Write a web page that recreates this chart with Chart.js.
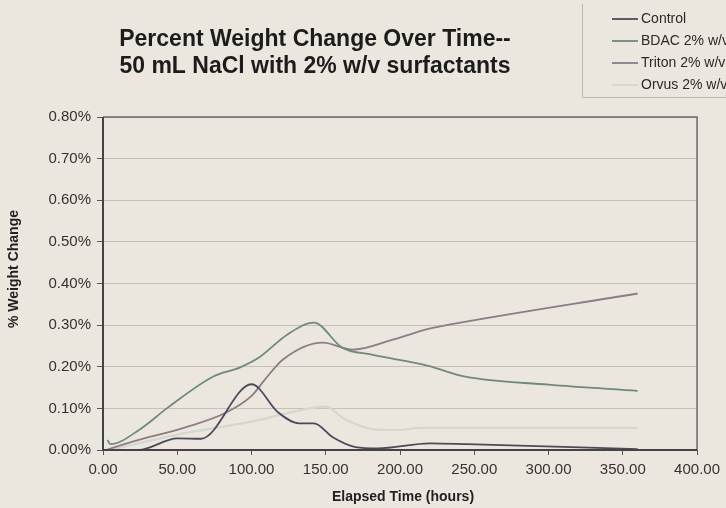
<!DOCTYPE html>
<html>
<head>
<meta charset="utf-8">
<script src="https://cdn.jsdelivr.net/npm/chart.js@4/dist/chart.umd.min.js"></script>
<style>
    body { margin: 0; background: #ece7de; }
    #wrap { width: 726px; height: 508px; position: relative; }
</style>
</head>
<body>
<div id="wrap"><canvas id="grafico"></canvas></div>
<script>
// dados (horas, % de variacao de peso)
let horasControle = [5, 24, 50, 66, 100, 118, 132, 142, 155, 170, 185, 220, 245, 360];
let valoresControle = [0, 0, 0.028, 0.027, 0.158, 0.09, 0.064, 0.064, 0.03, 0.007, 0.004, 0.016, 0.014, 0.002];

let horasBDAC = [3, 5, 25, 43, 74, 92, 105, 124, 142, 161, 181, 219, 244, 300, 360];
let valoresBDAC = [0.024, 0.014, 0.05, 0.1, 0.176, 0.198, 0.222, 0.277, 0.306, 0.246, 0.229, 0.202, 0.176, 0.157, 0.142];

let horasTriton = [2, 20, 56, 83, 100, 109, 121, 148, 168, 195, 219, 233, 360];
let valoresTriton = [0, 0.02, 0.055, 0.09, 0.13, 0.169, 0.217, 0.258, 0.241, 0.265, 0.291, 0.301, 0.376];

let horasOrvus = [5, 54, 100, 139, 150, 163, 184, 199, 213, 360];
let valoresOrvus = [0, 0.04, 0.068, 0.1, 0.104, 0.074, 0.049, 0.048, 0.053, 0.053];

let nomesSeries = ['Control', 'BDAC 2% w/v', 'Triton 2% w/v', 'Orvus 2% w/v'];
let coresSeries = ['#4b4a5c', '#6f8a7b', '#8c7c86', '#d4d7cd'];

let titulo = ['Percent Weight Change Over Time--', '50 mL NaCl with 2% w/v surfactants'];
let tituloX = 'Elapsed Time (hours)';
let tituloY = '% Weight Change';

let fonte = '"Liberation Sans", Arial, sans-serif';

function pontos(horas, valores) {
    return horas.map((h, i) => ({ x: h, y: valores[i] }));
}

function serie(i, horas, valores) {
    return {
        label: nomesSeries[i],
        data: pontos(horas, valores),
        borderColor: coresSeries[i],
        backgroundColor: coresSeries[i],
        borderWidth: i == 3 ? 2.2 : 1.8,
        pointRadius: 0,
        cubicInterpolationMode: 'monotone',
        fill: false
    };
}

const extras = {
    id: 'extras',
    beforeDraw(chart) {
        const c = chart.ctx;
        c.save();
        c.fillStyle = '#ece7de';
        c.fillRect(0, 0, chart.width, chart.height);
        c.restore();
    },
    afterDatasetsDraw(chart) {
        const c = chart.ctx;
        const a = chart.chartArea;
        c.save();
        // moldura da area do grafico
        c.strokeStyle = '#6a6866';
        c.lineWidth = 1.5;
        c.beginPath();
        c.moveTo(a.left, a.top);
        c.lineTo(a.right, a.top);
        c.lineTo(a.right, a.bottom);
        c.stroke();
        c.strokeStyle = '#444';
        c.lineWidth = 2;
        c.beginPath();
        c.moveTo(a.left, a.top);
        c.lineTo(a.left, a.bottom);
        c.lineTo(a.right, a.bottom);
        c.stroke();

        // titulo
        c.fillStyle = '#1c1c1c';
        c.textAlign = 'center';
        c.textBaseline = 'alphabetic';
        c.font = 'bold 23px ' + fonte;
        c.fillText(titulo[0], 315, 46);
        c.fillText(titulo[1], 315, 73);

        // titulos dos eixos
        c.font = 'bold 14px ' + fonte;
        c.fillStyle = '#222';
        c.textBaseline = 'middle';
        c.fillText(tituloX, 403, 497);
        c.translate(14, 269);
        c.rotate(-Math.PI / 2);
        c.fillText(tituloY, 0, 0);
        c.setTransform(1, 0, 0, 1, 0, 0);

        // legenda
        c.strokeStyle = '#bcb8b0';
        c.lineWidth = 1;
        c.beginPath();
        c.moveTo(582.5, 4);
        c.lineTo(582.5, 97.5);
        c.lineTo(726, 97.5);
        c.stroke();
        c.font = '14px ' + fonte;
        c.textAlign = 'left';
        chart.data.datasets.forEach((ds, i) => {
            let y = 19 + i * 22;
            c.strokeStyle = ds.borderColor;
            c.lineWidth = 1.8;
            c.beginPath();
            c.moveTo(612, y);
            c.lineTo(638, y);
            c.stroke();
            c.fillStyle = '#2a2a2a';
            c.fillText(ds.label, 641, y);
        });
        c.restore();
    }
};

new Chart(document.getElementById('grafico'), {
    type: 'line',
    data: {
        datasets: [
            serie(0, horasControle, valoresControle),
            serie(1, horasBDAC, valoresBDAC),
            serie(2, horasTriton, valoresTriton),
            serie(3, horasOrvus, valoresOrvus)
        ]
    },
    options: {
        responsive: true,
        maintainAspectRatio: false,
        animation: false,
        layout: { padding: { top: 117, right: 27, left: 0, bottom: 0 } },
        plugins: {
            legend: { display: false },
            title: { display: false },
            tooltip: { enabled: false }
        },
        scales: {
            x: {
                type: 'linear',
                min: 0,
                max: 400,
                ticks: {
                    stepSize: 50,
                    color: '#333',
                    padding: 6,
                    maxRotation: 0,
                    font: { size: 15, family: fonte },
                    callback: v => Number(v).toFixed(2)
                },
                grid: { drawOnChartArea: false, tickLength: 5, tickColor: '#555' },
                border: { display: false },
                afterFit(scale) { scale.height = 58; }
            },
            y: {
                min: 0,
                max: 0.8,
                ticks: {
                    stepSize: 0.1,
                    color: '#333',
                    padding: 6,
                    font: { size: 15, family: fonte },
                    callback: v => Number(v).toFixed(2) + '%'
                },
                grid: { color: 'rgba(150,146,140,0.45)', tickLength: 6, tickColor: '#555' },
                border: { display: false },
                afterFit(scale) { scale.width = 103; }
            }
        }
    },
    plugins: [extras]
});
</script>
</body>
</html>
